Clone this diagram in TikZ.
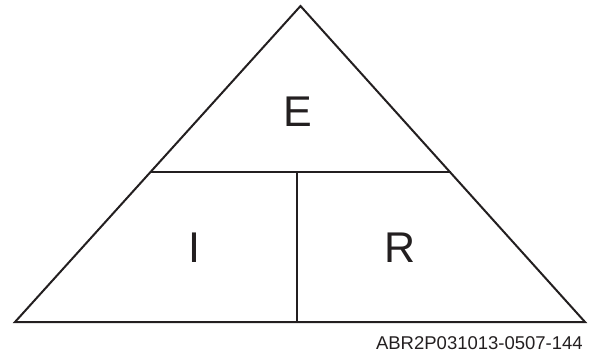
\documentclass[tikz,border=0pt]{standalone}
\usepackage{fontspec}
\setmainfont{Liberation Sans}
\definecolor{ink}{HTML}{231F20}
\begin{document}
\begin{tikzpicture}[x=1pt,y=-1pt,
  edge/.style={draw=ink,line width=2pt},
  letter/.style={font=\fontsize{43}{43}\selectfont,text=ink,inner sep=0pt},
  caption/.style={font=\fontsize{18.5}{18.5}\selectfont,text=ink,inner sep=0pt,anchor=base east}]
\useasboundingbox (0,0) rectangle (589,354);
\coordinate (top) at (300.5,6);
\coordinate (bl) at (15,322);
\coordinate (br) at (585,322);
\coordinate (ml) at (150.5,172);
\coordinate (mr) at (450.5,172);
\coordinate (vt) at (297,172);
\coordinate (vb) at (297,322);
\draw[edge,line join=miter] (top) -- (br) -- (bl) -- cycle;
\draw[edge] (ml) -- (mr);
\draw[edge] (vt) -- (vb);
\node[letter] (E) at (297.5,112) {E};
\node[letter] (I) at (194,248) {I};
\node[letter] (R) at (400,248) {R};
\node[caption] (cap) at (583,349) {ABR2P031013-0507-144};
\end{tikzpicture}
\end{document}
